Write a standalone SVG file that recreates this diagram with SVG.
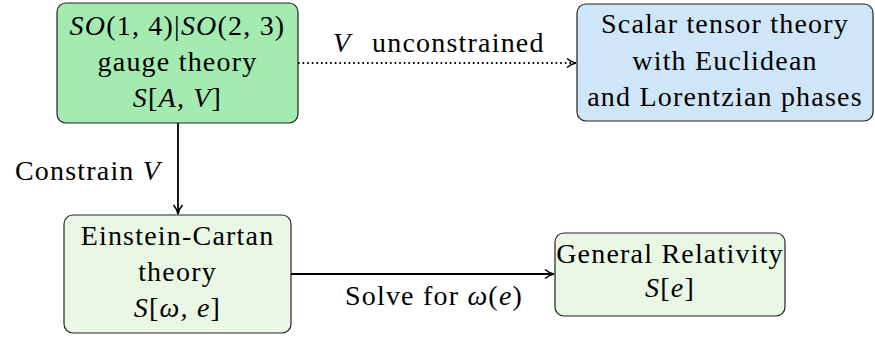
<svg xmlns="http://www.w3.org/2000/svg" width="875" height="340" viewBox="0 0 875 340">
<defs>
<marker id="ah" viewBox="0 0 12 12" refX="11" refY="6" markerWidth="12" markerHeight="12" orient="auto" markerUnits="userSpaceOnUse">
<path d="M2,1.5 Q6,5 11,6 Q6,7 2,10.5" fill="none" stroke="#000" stroke-width="1.6"/>
</marker>
</defs>
<style>
text{font-family:"Liberation Serif","DejaVu Serif",serif;font-size:28px;letter-spacing:1.2px;fill:#000;text-anchor:middle}
.i{font-style:italic}
.s{text-anchor:start}
.box{stroke:#222;stroke-width:1.2}
.c{stroke:#000;stroke-width:1.8;fill:none}
</style>
<rect width="875" height="340" fill="#fff"/>
<g id="gauge">
<rect class="box" x="57" y="3" width="241" height="120" rx="9" fill="#a3ebb0"/>
<text x="177.5" y="35"><tspan class="i">SO</tspan>(1, 4)|<tspan class="i">SO</tspan>(2, 3)</text>
<text x="177.5" y="71">gauge theory</text>
<text x="177.5" y="107"><tspan class="i">S</tspan>[<tspan class="i">A, V</tspan>]</text>
</g>
<g id="scalar">
<rect class="box" x="577" y="4" width="296" height="117" rx="9" fill="#cfe5f8"/>
<text x="725" y="33">Scalar tensor theory</text>
<text x="725" y="70">with Euclidean</text>
<text x="725" y="106">and Lorentzian phases</text>
</g>
<g id="ec">
<rect class="box" x="64" y="215" width="227" height="118" rx="9" fill="#eaf7e5"/>
<text x="177.5" y="245">Einstein-Cartan</text>
<text x="177.5" y="281">theory</text>
<text x="177.5" y="317"><tspan class="i">S</tspan>[<tspan class="i">ω, e</tspan>]</text>
</g>
<g id="gr">
<rect class="box" x="555" y="233" width="230" height="83" rx="9" fill="#eaf7e5"/>
<text x="670" y="263">General Relativity</text>
<text x="670" y="297"><tspan class="i">S</tspan>[<tspan class="i">e</tspan>]</text>
</g>
<g id="connectors">
<line class="c" x1="298" y1="63" x2="576" y2="63" stroke-dasharray="1.6,3" marker-end="url(#ah)"/>
<line class="c" x1="178" y1="123" x2="178" y2="214" marker-end="url(#ah)"/>
<line class="c" x1="291" y1="274" x2="554" y2="274" marker-end="url(#ah)"/>
<text class="s" x="333" y="52"><tspan class="i">V</tspan><tspan x="372">unconstrained</tspan></text>
<text x="88" y="180"><tspan>Constrain </tspan><tspan class="i">V</tspan></text>
<text x="434" y="305">Solve for <tspan class="i">ω</tspan>(<tspan class="i">e</tspan>)</text>
</g>
</svg>
